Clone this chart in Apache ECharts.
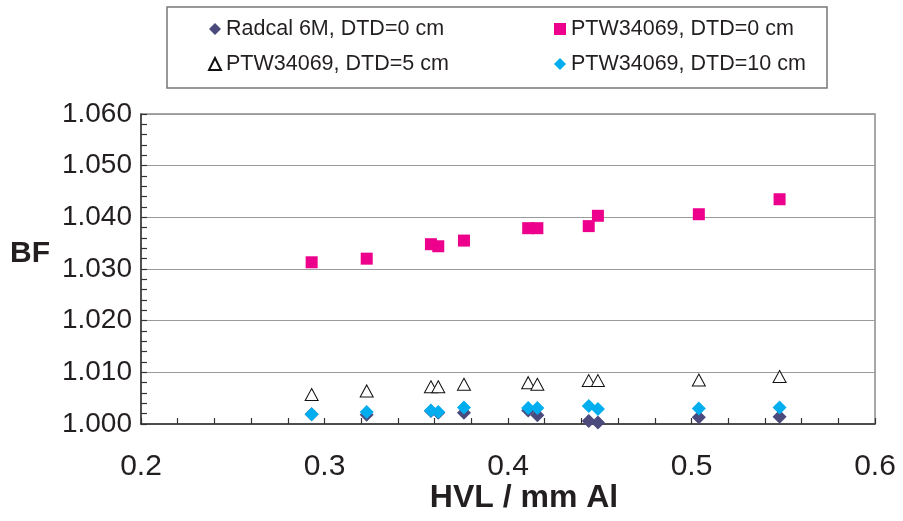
<!DOCTYPE html>
<html>
<head>
<meta charset="utf-8">
<script src="https://cdn.jsdelivr.net/npm/echarts@6/dist/echarts.min.js"></script>
<style>
html,body{margin:0;padding:0;background:#fff;}
#chart{width:903px;height:521px;}
</style>
</head>
<body>
<div id="chart"></div>
<script>
// HVL values (mm Al)
const hvl = [0.293, 0.323, 0.358, 0.362, 0.376, 0.411, 0.416, 0.444, 0.449, 0.504, 0.548];
// BF values per series
const radcal0 = [1.0019, 1.0018, 1.0025, 1.0022, 1.0022, 1.0026, 1.0017, 1.0006, 1.0003, 1.0013, 1.0014];
const ptw0 = [1.0313, 1.0320, 1.0348, 1.0344, 1.0355, 1.0379, 1.0379, 1.0383, 1.0403, 1.0406, 1.0435];
const ptw5 = [1.0057, 1.0064, 1.0072, 1.0072, 1.0077, 1.0080, 1.0077, 1.0084, 1.0084, 1.0085, 1.0092];
const ptw10 = [1.0019, 1.0023, 1.0026, 1.0023, 1.0032, 1.0031, 1.0031, 1.0035, 1.0029, 1.0030, 1.0032];
const seriesNames = ['Radcal 6M, DTD=0 cm', 'PTW34069, DTD=0 cm', 'PTW34069, DTD=5 cm', 'PTW34069, DTD=10 cm'];

const pairs = arr => hvl.map((x, i) => [x, arr[i]]);
const FONT = '"Liberation Sans", Arial, sans-serif';
const chart = echarts.init(document.getElementById('chart'), null, {renderer: 'canvas'});

const legendText = {fontFamily: FONT, fontSize: 21.5, color: '#231f20'};

chart.setOption({
  backgroundColor: '#ffffff',
  animation: false,
  graphic: [{
    type: 'rect',
    shape: {x: 167, y: 7, width: 660, height: 81},
    style: {fill: 'none', stroke: '#777', lineWidth: 1.5},
    z: -1
  }],
  legend: [
    {
      data: [seriesNames[0], seriesNames[2]],
      orient: 'vertical', left: 203, top: 13, itemGap: 13,
      itemWidth: 12, itemHeight: 12,
      textStyle: legendText,
      selectedMode: false
    },
    {
      data: [seriesNames[1], seriesNames[3]],
      orient: 'vertical', left: 549, top: 13, itemGap: 13,
      itemWidth: 12, itemHeight: 12,
      textStyle: legendText,
      selectedMode: false
    }
  ],
  grid: {
    left: 141, right: 28, top: 114, bottom: 97,
    show: true, borderColor: '#8a8a8a', borderWidth: 1.5, backgroundColor: '#fff',
    containLabel: false, outerBoundsMode: 'none'
  },
  xAxis: {
    type: 'value', min: 0.2, max: 0.6, interval: 0.1,
    name: 'HVL / mm Al', nameLocation: 'middle', nameGap: 58, nameMoveOverlap: false,
    nameTextStyle: {fontFamily: FONT, fontSize: 32, fontWeight: 'bold', color: '#231f20', padding: [0, 0, 0, 32]},
    axisLine: {show: true, lineStyle: {color: '#333', width: 1.5}},
    axisTick: {show: true, inside: true, length: 6, lineStyle: {color: '#333', width: 1.2}},
    minorTick: {show: true, splitNumber: 5, length: 6, lineStyle: {color: '#333', width: 1.2}},
    splitLine: {show: false},
    axisLabel: {fontFamily: FONT, fontSize: 30, color: '#231f20', margin: 28,
      formatter: v => v.toFixed(1)}
  },
  yAxis: {
    type: 'value', min: 1.0, max: 1.06, interval: 0.01,
    name: 'BF', nameLocation: 'middle', nameGap: 91, nameRotate: 0, nameMoveOverlap: false,
    nameTextStyle: {fontFamily: FONT, fontSize: 30, fontWeight: 'bold', color: '#231f20', verticalAlign: 'bottom'},
    axisLine: {show: true, lineStyle: {color: '#333', width: 1.5}},
    axisTick: {show: true, inside: true, length: 6, lineStyle: {color: '#333', width: 1.2}},
    minorTick: {show: true, splitNumber: 5, length: 6, lineStyle: {color: '#333', width: 1.2}},
    splitLine: {show: true, lineStyle: {color: '#9a9a9a', width: 1.2}},
    axisLabel: {fontFamily: FONT, fontSize: 28, color: '#231f20', margin: 9,
      formatter: v => v.toFixed(3)}
  },
  series: [
    {
      name: seriesNames[0], type: 'scatter', data: pairs(radcal0),
      symbol: 'diamond', symbolSize: [14, 14],
      itemStyle: {color: '#4b4a7c', opacity: 1}
    },
    {
      name: seriesNames[1], type: 'scatter', data: pairs(ptw0),
      symbol: 'rect', symbolSize: [12, 12],
      itemStyle: {color: '#ec008c', opacity: 1}
    },
    {
      name: seriesNames[2], type: 'scatter', data: pairs(ptw5),
      symbol: 'triangle', symbolSize: [13, 12],
      itemStyle: {color: '#ffffff', borderColor: '#111', borderWidth: 1, opacity: 1}
    },
    {
      name: seriesNames[3], type: 'scatter', data: pairs(ptw10),
      symbol: 'diamond', symbolSize: [14, 14],
      itemStyle: {color: '#00aeef', opacity: 1}
    }
  ]
});
</script>
</body>
</html>
